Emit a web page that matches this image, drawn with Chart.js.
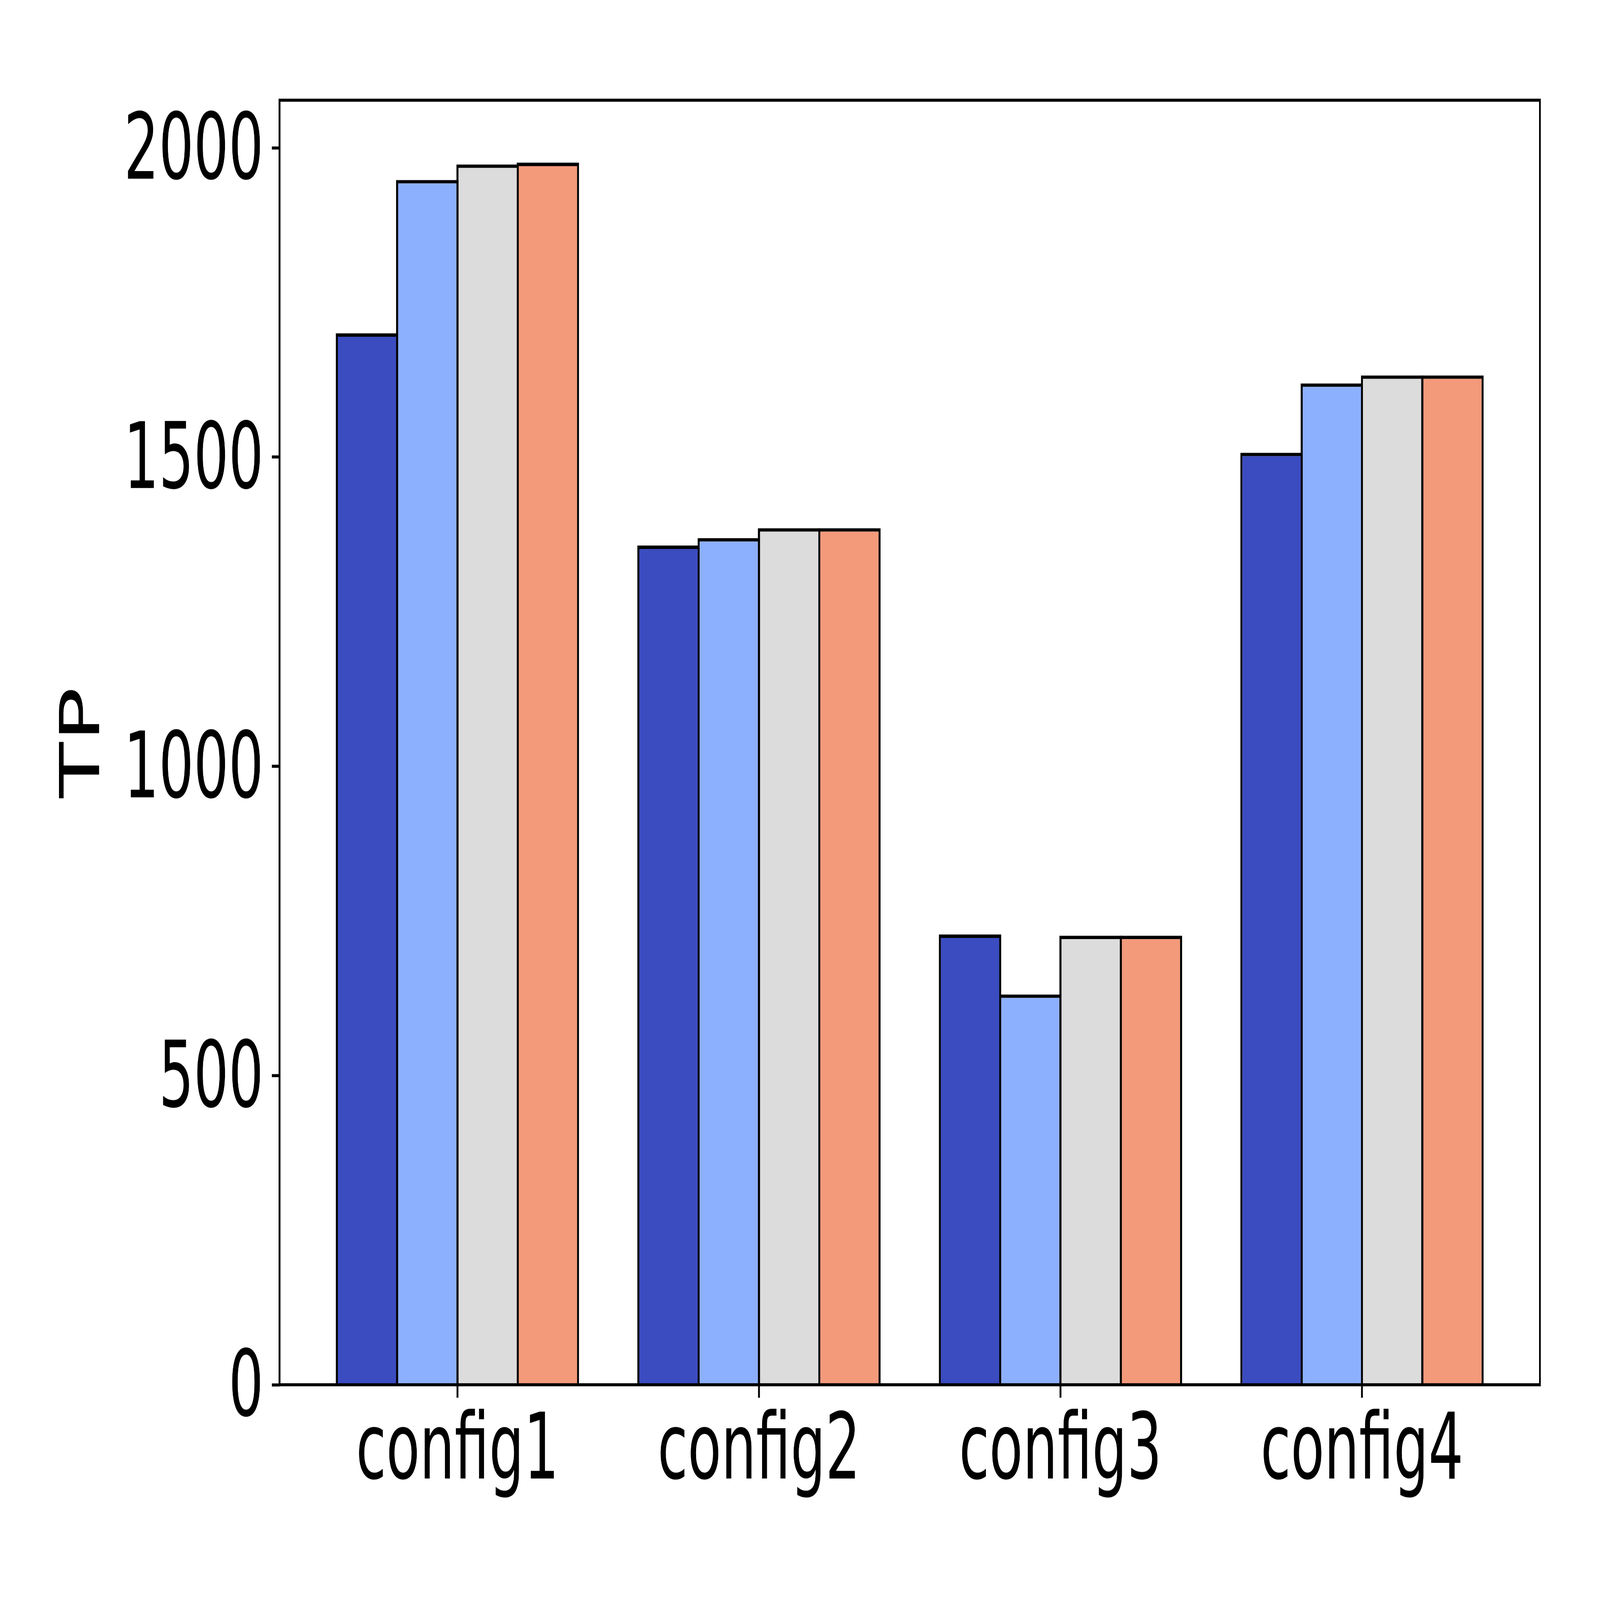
<!DOCTYPE html>
<html lang="en">
<head>
  <meta charset="UTF-8">
  <title>TP per config</title>
  <script src="https://cdn.jsdelivr.net/npm/chart.js"></script>
  <style>
    html, body { margin: 0; padding: 0; background: #fff; overflow: hidden; }
    /* drawn at 7000x4200, shown at whatever size the window is */
    #chart { display: block; width: 100vw !important; height: 100vh !important; }
  </style>
</head>
<body>
<canvas id="chart" width="7000" height="4200"></canvas>

<script>
  // values
  const categories = ["config1", "config2", "config3", "config4"];
  const series1 = [1700, 1357, 728, 1507];
  const series2 = [1948, 1369, 631, 1619];
  const series3 = [1973, 1385, 726, 1632];
  const series4 = [1976, 1385, 726, 1632];
  const yTicks = [0, 500, 1000, 1500, 2000];

  const colors = ["#3b4cc0", "#8db0fe", "#dddcdc", "#f39a7b"];
  const font = { family: "'DejaVu Sans', sans-serif", size: 240 };
  const edge = 9;

  const datasets = [series1, series2, series3, series4].map((vals, i) => ({
    label: "s" + (i + 1),
    data: vals.map((v, j) => ({ x: j, y: v })),
    backgroundColor: colors[i],
    borderColor: "#000",
    borderWidth: edge,
    borderSkipped: "start",
    categoryPercentage: 0.8,
    // a bit wider than the slot so neighbouring edges overlap into one line
    barPercentage: 1 + edge / 263.8
  }));

  // box round the plot, like matplotlib spines
  const frame = {
    id: "frame",
    afterDatasetsDraw(chart) {
      const { ctx, chartArea: a } = chart;
      ctx.save();
      ctx.strokeStyle = "#000";
      ctx.lineWidth = 8;
      ctx.strokeRect(a.left, a.top, a.right - a.left, a.bottom - a.top);
      ctx.restore();
    }
  };

  new Chart(document.getElementById("chart"), {
    type: "bar",
    data: { datasets },
    plugins: [frame],
    options: {
      responsive: false,
      devicePixelRatio: 1,
      animation: false,
      layout: { padding: { top: 263, right: 263, bottom: 0, left: 0 } },
      plugins: { legend: { display: false }, tooltip: { enabled: false } },
      scales: {
        x: {
          type: "linear",
          offset: false,
          min: -0.59,
          max: 3.59,
          afterBuildTicks: s => { s.ticks = categories.map((c, i) => ({ value: i })); },
          afterFit: s => { s.height = 565; },
          border: { display: false },
          grid: { display: true, offset: false, drawOnChartArea: false, drawTicks: true,
                  tickLength: 34, tickWidth: 8, tickColor: "#000" },
          ticks: {
            callback: v => categories[v],
            color: "#000",
            padding: 6,
            maxRotation: 0,
            autoSkip: false,
            font
          }
        },
        y: {
          min: 0,
          max: 2077,
          afterBuildTicks: s => { s.ticks = yTicks.map(v => ({ value: v })); },
          afterFit: s => { s.width = 1223; },
          border: { display: false },
          grid: { display: true, drawOnChartArea: false, drawTicks: true,
                  tickLength: 34, tickWidth: 8, tickColor: "#000" },
          ticks: {
            callback: v => String(v),
            color: "#000",
            padding: 36,
            labelOffset: 19,
            font
          },
          title: {
            display: true,
            text: "TP",
            color: "#000",
            padding: { top: 228, bottom: 0 },
            font
          }
        }
      }
    }
  });
</script>
</body>
</html>
